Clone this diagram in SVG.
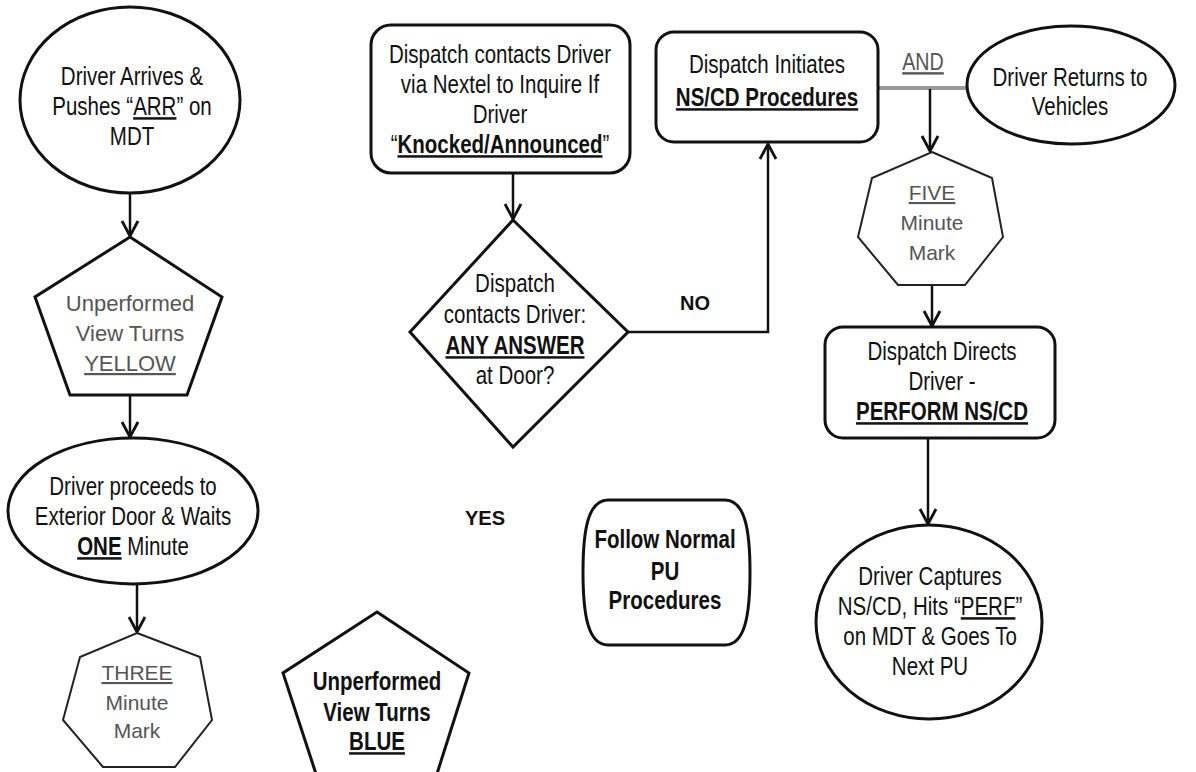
<svg xmlns="http://www.w3.org/2000/svg" width="1196" height="772" viewBox="0 0 1196 772">
<style>
.shape{fill:#fff;stroke:#111;stroke-width:3}
.thin{fill:#fff;stroke:#222;stroke-width:2}
.t{font-family:"Liberation Sans",Arial,sans-serif;font-size:25px;fill:#111;text-anchor:middle}
.b{font-weight:bold}
.g{font-family:"Liberation Sans",Arial,sans-serif;font-size:21px;fill:#555;text-anchor:middle}
.lbl{font-family:"Liberation Sans",Arial,sans-serif;font-size:20px;font-weight:bold;fill:#111;text-anchor:middle}
.u{text-decoration:underline}
.c{fill:none;stroke:#111;stroke-width:2.5}
</style>
<defs>
<marker id="arr" markerUnits="userSpaceOnUse" markerWidth="20" markerHeight="20" viewBox="0 0 20 20" refX="18" refY="10" orient="auto">
<path d="M3,2 L18,10 L3,18" fill="none" stroke="#111" stroke-width="2.8"/>
</marker>
</defs>
<g id="connectors">
<line class="c" x1="130" y1="193" x2="130" y2="236" marker-end="url(#arr)"/>
<line class="c" x1="130" y1="395" x2="130" y2="437" marker-end="url(#arr)"/>
<line class="c" x1="137" y1="583" x2="137" y2="632" marker-end="url(#arr)"/>
<line class="c" x1="513" y1="173" x2="513" y2="219" marker-end="url(#arr)"/>
<polyline class="c" points="628,332 768,332 768,144" marker-end="url(#arr)"/>
<line x1="878" y1="88" x2="967" y2="88" stroke="#999" stroke-width="4"/>
<line class="c" x1="930" y1="89" x2="930" y2="151" marker-end="url(#arr)"/>
<line class="c" x1="932" y1="285" x2="932" y2="326" marker-end="url(#arr)"/>
<line class="c" x1="928" y1="438" x2="928" y2="524" marker-end="url(#arr)"/>
<text class="lbl" x="695" y="310">NO</text>
<text class="lbl" x="485" y="525">YES</text>
<text class="t u" transform="matrix(0.82,0,0,1,923,0)" x="0" y="70" style="fill:#555;font-size:24px">AND</text>
</g>
<g id="n1">
<ellipse class="shape" cx="130" cy="100" rx="110" ry="93"/>
<text class="t" transform="matrix(0.82,0,0,1,132,0)" x="0" y="85">Driver Arrives &amp;</text>
<text class="t" transform="matrix(0.82,0,0,1,132,0)" x="0" y="115">Pushes “<tspan class="u">ARR</tspan>” on</text>
<text class="t" transform="matrix(0.82,0,0,1,132,0)" x="0" y="145">MDT</text>
</g>
<g id="n2">
<polygon class="shape" points="130,237 222,297 187,395 70,395 35,297"/>
<text class="g" x="130" y="311" style="font-size:22px">Unperformed</text>
<text class="g" x="130" y="341" style="font-size:22px">View Turns</text>
<text class="g u" x="130" y="371" style="font-size:22px">YELLOW</text>
</g>
<g id="n3">
<ellipse class="shape" cx="133" cy="511" rx="125" ry="73"/>
<text class="t" transform="matrix(0.82,0,0,1,133,0)" x="0" y="495">Driver proceeds to</text>
<text class="t" transform="matrix(0.82,0,0,1,133,0)" x="0" y="525">Exterior Door &amp; Waits</text>
<text class="t" transform="matrix(0.82,0,0,1,133,0)" x="0" y="555"><tspan class="b u">ONE</tspan> Minute</text>
</g>
<g id="n4">
<polygon class="thin" points="137,633 200,657 212,720 175,767 103,767 63,720 80,657"/>
<text class="g u" x="137" y="680">THREE</text>
<text class="g" x="137" y="710">Minute</text>
<text class="g" x="137" y="738">Mark</text>
</g>
<g id="n5">
<polygon class="shape" points="377,612 469,673 435,780 318,780 283,673"/>
<text class="t b" transform="matrix(0.82,0,0,1,377,0)" x="0" y="690">Unperformed</text>
<text class="t b" transform="matrix(0.82,0,0,1,377,0)" x="0" y="721">View Turns</text>
<text class="t b u" transform="matrix(0.82,0,0,1,377,0)" x="0" y="750">BLUE</text>
</g>
<g id="n6">
<rect class="shape" x="371" y="25" width="259" height="148" rx="20"/>
<text class="t" transform="matrix(0.82,0,0,1,500,0)" x="0" y="63">Dispatch contacts Driver</text>
<text class="t" transform="matrix(0.82,0,0,1,500,0)" x="0" y="93">via Nextel to Inquire If</text>
<text class="t" transform="matrix(0.82,0,0,1,500,0)" x="0" y="123">Driver</text>
<text class="t" transform="matrix(0.82,0,0,1,500,0)" x="0" y="153">“<tspan class="b u">Knocked/Announced</tspan>”</text>
</g>
<g id="n7">
<polygon class="shape" points="513,220 628,332 513,447 410,332"/>
<text class="t" transform="matrix(0.82,0,0,1,515,0)" x="0" y="292">Dispatch</text>
<text class="t" transform="matrix(0.82,0,0,1,515,0)" x="0" y="323">contacts Driver:</text>
<text class="t b u" transform="matrix(0.82,0,0,1,515,0)" x="0" y="354">ANY ANSWER</text>
<text class="t" transform="matrix(0.82,0,0,1,515,0)" x="0" y="384">at Door?</text>
</g>
<g id="n8">
<rect class="shape" x="656" y="32" width="222" height="110" rx="18"/>
<text class="t" transform="matrix(0.82,0,0,1,767,0)" x="0" y="73">Dispatch Initiates</text>
<text class="t b u" transform="matrix(0.82,0,0,1,767,0)" x="0" y="106">NS/CD Procedures</text>
</g>
<g id="n9">
<ellipse class="shape" cx="1071" cy="85" rx="104" ry="59"/>
<text class="t" transform="matrix(0.82,0,0,1,1070,0)" x="0" y="86">Driver Returns to</text>
<text class="t" transform="matrix(0.82,0,0,1,1070,0)" x="0" y="115">Vehicles</text>
</g>
<g id="n10">
<polygon class="thin" points="932,152 992,178 1003,237 965,285 898,285 858,237 872,178"/>
<text class="g u" x="932" y="200">FIVE</text>
<text class="g" x="932" y="230">Minute</text>
<text class="g" x="932" y="260">Mark</text>
</g>
<g id="n11">
<rect class="shape" x="825" y="327" width="230" height="111" rx="18"/>
<text class="t" transform="matrix(0.82,0,0,1,942,0)" x="0" y="360">Dispatch Directs</text>
<text class="t" transform="matrix(0.82,0,0,1,942,0)" x="0" y="390">Driver -</text>
<text class="t b u" transform="matrix(0.82,0,0,1,942,0)" x="0" y="420">PERFORM NS/CD</text>
</g>
<g id="n12">
<ellipse class="shape" cx="929" cy="622" rx="113" ry="97"/>
<text class="t" transform="matrix(0.82,0,0,1,930,0)" x="0" y="585">Driver Captures</text>
<text class="t" transform="matrix(0.82,0,0,1,930,0)" x="0" y="615">NS/CD, Hits “<tspan class="u">PERF</tspan>”</text>
<text class="t" transform="matrix(0.82,0,0,1,930,0)" x="0" y="645">on MDT &amp; Goes To</text>
<text class="t" transform="matrix(0.82,0,0,1,930,0)" x="0" y="675">Next PU</text>
</g>
<g id="n13">
<path class="shape" d="M608,500 H725 C745,500 750,530 750,572 C750,615 745,645 725,645 H608 C588,645 583,615 583,572 C583,530 588,500 608,500 Z"/>
<text class="t b" transform="matrix(0.82,0,0,1,665,0)" x="0" y="548">Follow Normal</text>
<text class="t b" transform="matrix(0.82,0,0,1,665,0)" x="0" y="580">PU</text>
<text class="t b" transform="matrix(0.82,0,0,1,665,0)" x="0" y="609">Procedures</text>
</g>
</svg>
